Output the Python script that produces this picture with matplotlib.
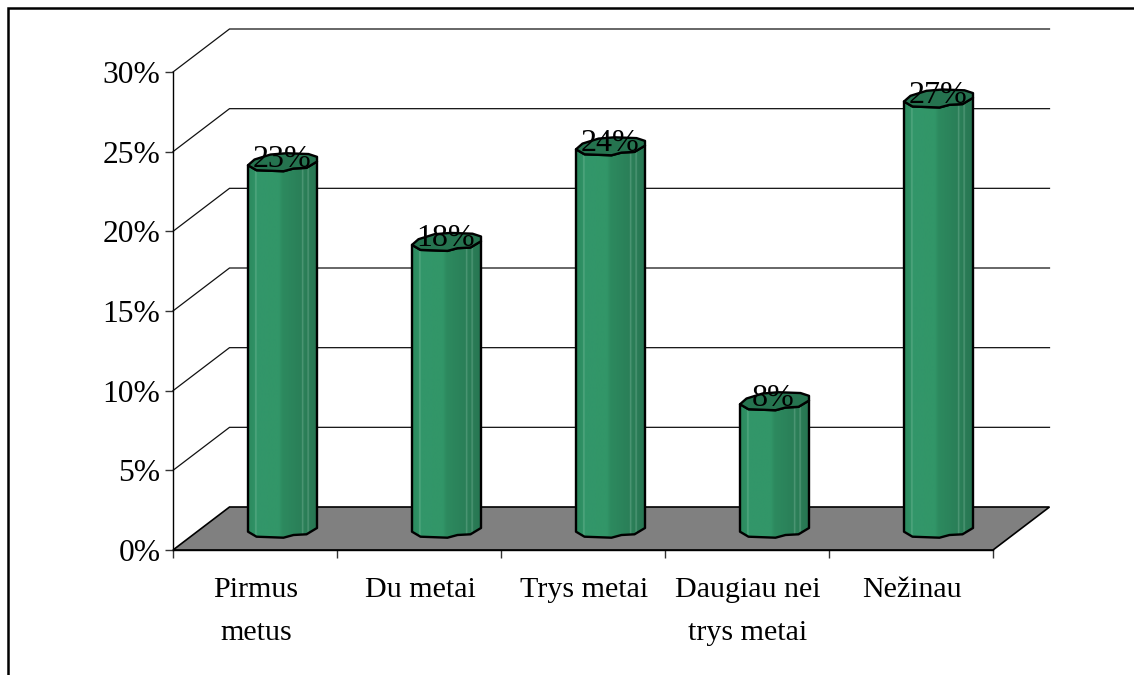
import matplotlib
matplotlib.use("Agg")
import matplotlib.pyplot as plt
import numpy as np
from matplotlib.colors import LinearSegmentedColormap
from matplotlib.lines import Line2D
from matplotlib.patches import Polygon

categories = ["Pirmus\nmetus", "Du metai", "Trys metai", "Daugiau nei\ntrys metai", "Nežinau"]
values = [23, 18, 24, 8, 27]
y_ticks = [0, 5, 10, 15, 20, 25, 30]

plt.rcParams["font.family"] = ["Liberation Serif", "DejaVu Serif"]
W, H = 1134, 675
fig = plt.figure(figsize=(W / 100, H / 100), dpi=100, facecolor="white")
L, R, B, T = 173, 993, 550, 72
ax = fig.add_axes([L / W, 1 - B / H, (R - L) / W, (B - T) / H])
ax.set_xlim(0, len(values))
ax.set_ylim(0, 30)
ax.patch.set_visible(False)

px_x = (R - L) / len(values)
px_y = (B - T) / 30
depth_x = 56.5 / px_x
depth_y = 43 / px_y

# floor and back wall gridlines
ax.add_patch(Polygon([(0, 0), (5, 0), (5 + depth_x, depth_y), (depth_x, depth_y)],
                     closed=True, fc="#808080", ec="black", lw=1.2, zorder=1, clip_on=False))
for v in y_ticks[1:]:
    ax.plot([0, depth_x, 5 + depth_x], [v, v + depth_y, v + depth_y], color="#111111",
            lw=0.9, zorder=1, clip_on=False, solid_joinstyle="miter")

# cylinders
profile_low = [(-34.5, 2.7), (-26, 7.7), (1, 8.7), (11, 6), (24, 5.3), (34.5, -1)]
profile_up = [(34.5, -5.7), (26, -8.5), (4, -9.3), (-12, -8), (-28, -3)]
gradient = LinearSegmentedColormap.from_list("cyl", [
    (0.00, "#2c8a5e"), (0.10, "#2f9165"), (0.11, "#5fae88"), (0.13, "#32966a"),
    (0.45, "#329668"), (0.50, "#2d8a5f"), (0.78, "#2a7f58"), (0.79, "#5c9f80"),
    (0.81, "#2b8059"), (0.86, "#2a7c56"), (0.87, "#5c9f80"), (0.89, "#2a7c56"),
    (1.00, "#277552")])
base_shift = (B - 529) / px_y
bar_center = 27.5 / px_x
half = 34.5 / px_x
grad = np.linspace(0, 1, 256).reshape(1, -1)
for i, v in enumerate(values):
    xc = i + 0.5 + bar_center
    low = [(xc + dx / px_x, base_shift - dy / px_y) for dx, dy in profile_low]
    top = v + base_shift
    upper_low = [(xc + dx / px_x, top - dy / px_y) for dx, dy in profile_low]
    upper_up = [(xc + dx / px_x, top - dy / px_y) for dx, dy in profile_up]
    body = low + upper_low[::-1]
    im = ax.imshow(grad, extent=[xc - half, xc + half, 0, top + 2], cmap=gradient, aspect="auto",
                   zorder=3, interpolation="bilinear")
    clip = Polygon(body, closed=True, transform=ax.transData, fc="none", ec="none")
    ax.add_patch(clip)
    im.set_clip_path(clip)
    ax.add_patch(Polygon(body, closed=True, fc="none", ec="black", lw=1.7, zorder=4, joinstyle="round"))
    ax.add_patch(Polygon(upper_low + upper_up, closed=True, fc="#25734f", ec="black", lw=1.7,
                         zorder=5, joinstyle="round"))
    ax.annotate(f"{v}%", (xc, top), xytext=(-1, 7), textcoords="offset pixels", ha="center",
                va="center_baseline", fontsize=23, color="black", zorder=6)
ax.set_xlim(0, len(values))
ax.set_ylim(0, 30)

# axes
for s in ("top", "right"):
    ax.spines[s].set_visible(False)
for s in ("left", "bottom"):
    ax.spines[s].set_linewidth(1.0)
    ax.spines[s].set_zorder(2)
ax.set_yticks(y_ticks)
ax.set_yticklabels([f"{v}%" for v in y_ticks], fontsize=22.7)
ax.tick_params(axis="y", length=6, width=1, pad=3, color="#333333")
ax.set_xticks(range(len(values) + 1))
ax.set_xticklabels([""] * (len(values) + 1))
ax.tick_params(axis="x", length=6, width=1, color="#333333")
for i, label in enumerate(categories):
    ax.annotate(label, (i + 0.5, 0), xytext=(1, -27), textcoords="offset pixels", ha="center",
                va="top", fontsize=21.6, linespacing=1.84, clip_on=False)

# outer frame: only top and left sides are visible
fig.add_artist(Line2D([8 / W, 8 / W, 1], [0, 1 - 8 / H, 1 - 8 / H], color="black", lw=1.8,
                      solid_joinstyle="miter"))

fig.savefig("out.png", dpi=100, facecolor="white")
